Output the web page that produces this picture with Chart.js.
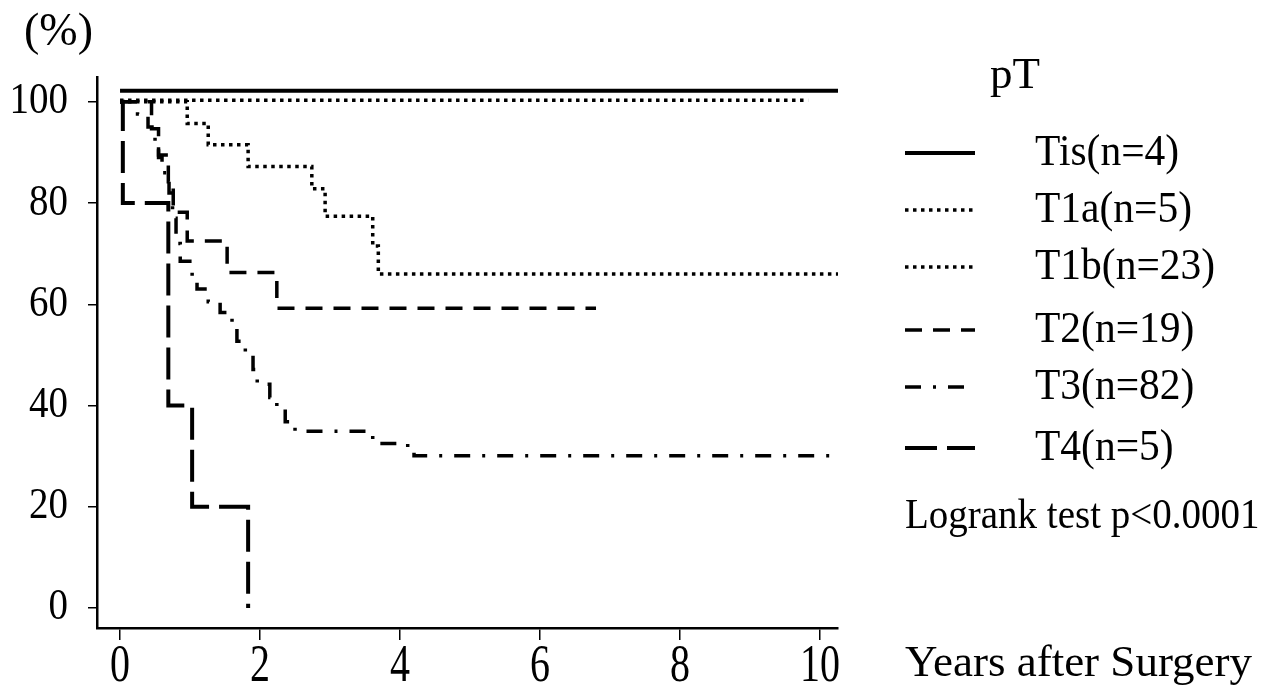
<!DOCTYPE html>
<html>
<head>
<meta charset="utf-8">
<script src="https://cdn.jsdelivr.net/npm/chart.js@4/dist/chart.umd.min.js"></script>
<style>
  body { margin: 0; background: #fff; }
  canvas { display: block; }
</style>
</head>
<body>
<canvas id="kmChart" width="1271" height="697"></canvas>
<script>
"use strict";

// survival curves by pT stage (years, % surviving)
const groupNames = ["Tis(n=4)", "T1a(n=5)", "T1b(n=23)", "T2(n=19)", "T3(n=82)", "T4(n=5)"];

const tisYears = [0, 10.26];
const tisSurv  = [102.2, 102.2];

const t1aYears = [0, 9.83];
const t1aSurv  = [100.3, 100.3];

const t1bYears = [0, 0.96, 1.26, 1.83, 2.74, 2.93, 3.61, 3.69, 10.26];
const t1bSurv  = [100, 95.7, 91.5, 87.2, 82.8, 77.4, 71.5, 66, 66];

const t2Years = [0, 0.45, 0.55, 0.69, 0.76, 0.96, 1.53, 2.24, 6.8];
const t2Surv  = [100, 94.7, 89.5, 84.2, 78.2, 72.5, 66.3, 59.2, 59.2];

const t3Years = [0, 0.25, 0.4, 0.5, 0.55, 0.6, 0.7, 0.75, 0.8, 0.86, 1.03, 1.1, 1.26, 1.43,
                 1.6, 1.67, 1.79, 1.9, 1.96, 2.14, 2.24, 2.36, 2.5, 3.61, 3.7, 4.11, 4.2, 10.26];
const t3Surv  = [100, 97.6, 95, 92, 89, 86, 82, 77, 72, 68.5, 65.5, 63, 60.5, 58.4,
                 56, 52.7, 50.1, 47.1, 44.2, 41.6, 39.6, 36.8, 34.9, 33.3, 32.5, 31.5, 30.1, 30.1];

const t4Years = [0, 0.04, 0.69, 1.03, 1.83];
const t4Surv  = [100, 80, 40, 20, 0];

const xTicks = [0, 2, 4, 6, 8, 10];
const yTicks = [0, 20, 40, 60, 80, 100];

const serif = "'Liberation Serif', 'DejaVu Serif', serif";

let pts = function (years, surv) {
  return years.map(function (t, i) { return {x: t, y: surv[i]}; });
};

let curve = function (label, years, surv, width, dash) {
  return {
    label: label,
    data: pts(years, surv),
    stepped: "before",
    borderColor: "#000",
    borderWidth: width,
    borderDash: dash,
    borderCapStyle: "butt",
    pointRadius: 0,
    fill: false
  };
};

const datasets = [
  curve(groupNames[0], tisYears, tisSurv, 4, []),
  curve(groupNames[1], t1aYears, t1aSurv, 3.5, [3.5, 4.5]),
  curve(groupNames[2], t1bYears, t1bSurv, 3.5, [3.5, 4.5]),
  curve(groupNames[3], t2Years, t2Surv, 3.5, [17, 11]),
  curve(groupNames[4], t3Years, t3Surv, 3.5, [16, 12, 3, 12]),
  curve(groupNames[5], t4Years, t4Surv, 4, [32, 10])
];

// legend rows and the loose texts, drawn on the canvas after the curves
const legendRowsY = [153, 210, 267, 330, 387, 448];

// tick labels in the scan are a little taller than wide, so they get stretched
let tallText = function (c, text, x, y, stretch) {
  c.save();
  c.translate(x, y);
  c.scale(1, stretch);
  c.fillText(text, 0, 0);
  c.restore();
};

const sideText = {
  id: "sideText",
  afterDraw: function (chart) {
    const c = chart.ctx;
    const xs = chart.scales.x;
    const ys = chart.scales.y;
    c.save();
    c.fillStyle = "#000";
    c.textBaseline = "middle";

    c.font = "40px " + serif;
    c.textAlign = "center";
    xTicks.forEach(function (v) { tallText(c, String(v), xs.getPixelForValue(v), 667, 1.3); });
    c.font = "39px " + serif;
    c.textAlign = "right";
    yTicks.forEach(function (v) { tallText(c, String(v), 68, ys.getPixelForValue(v), 1.12); });

    c.textAlign = "left";
    c.font = "46px " + serif;
    c.fillText("(%)", 24, 33);
    c.font = "45px " + serif;
    c.fillText("pT", 990, 76);
    c.font = "41.5px " + serif;
    chart.data.datasets.forEach(function (ds, i) {
      const y = legendRowsY[i];
      c.beginPath();
      c.setLineDash(ds.borderDash);
      c.lineWidth = ds.borderWidth;
      c.lineCap = "butt";
      c.strokeStyle = "#000";
      c.moveTo(905, y);
      c.lineTo(975, y);
      c.stroke();
      c.setLineDash([]);
      tallText(c, ds.label, 1035, y, 1.06);
    });
    c.font = "39px " + serif;
    tallText(c, "Logrank test p<0.0001", 905, 517, 1.06);
    c.font = "45px " + serif;
    c.fillText("Years after Surgery", 905, 664);
    c.restore();
  }
};

const axisLook = {
  border: {display: true, color: "#000", width: 2.5},
  grid: {display: true, drawOnChartArea: false, drawTicks: true, color: "#000", lineWidth: 1.5}
};

const config = {
  type: "line",
  data: {datasets: datasets},
  options: {
    responsive: false,
    animation: false,
    events: [],
    layout: {padding: {left: 0, top: 77, right: 433, bottom: 0}},
    plugins: {legend: {display: false}, tooltip: {enabled: false}},
    scales: {
      x: {
        type: "linear",
        min: -0.329,
        max: 10.257,
        border: axisLook.border,
        grid: Object.assign({tickLength: 12}, axisLook.grid),
        afterBuildTicks: function (s) { s.ticks = xTicks.map(function (v) { return {value: v}; }); },
        afterFit: function (s) { s.height = 69; },
        ticks: {display: false}
      },
      y: {
        type: "linear",
        min: -3.95,
        max: 104.9,
        border: axisLook.border,
        grid: Object.assign({tickLength: 9}, axisLook.grid),
        afterBuildTicks: function (s) { s.ticks = yTicks.map(function (v) { return {value: v}; }); },
        afterFit: function (s) { s.width = 97; },
        ticks: {display: false}
      }
    }
  },
  plugins: [sideText]
};

new Chart(document.getElementById("kmChart").getContext("2d"), config);
</script>
</body>
</html>
